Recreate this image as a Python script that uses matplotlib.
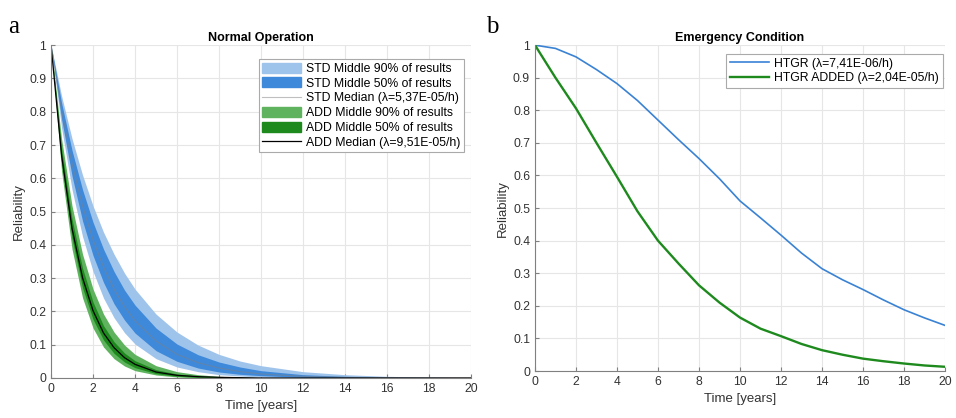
import matplotlib
matplotlib.use("Agg")
import matplotlib.pyplot as plt
from matplotlib.patches import Patch
from matplotlib.lines import Line2D

plt.rcParams['font.family'] = ['Liberation Sans', 'DejaVu Sans']

# time grid (years) for the normal operation bands
t_normal = [0, 0.5, 1, 1.5, 2, 2.5, 3, 3.5, 4, 5, 6, 7, 8, 9, 10, 12, 14, 16, 18, 20]

# STD (blue) percentiles
std_p95 = [1, 0.848, 0.719, 0.610, 0.517, 0.438, 0.372, 0.315, 0.267, 0.192, 0.138, 0.099,
           0.071, 0.051, 0.037, 0.019, 0.010, 0.005, 0.003, 0.001]
std_p75 = [1, 0.827, 0.684, 0.566, 0.468, 0.387, 0.320, 0.264, 0.219, 0.150, 0.102, 0.070,
           0.048, 0.033, 0.022, 0.010, 0.005, 0.002, 0.001, 0.0]
std_med = [1, 0.803, 0.644, 0.517, 0.415, 0.333, 0.267, 0.214, 0.172, 0.111, 0.071, 0.046,
           0.030, 0.019, 0.012, 0.005, 0.002, 0.001, 0.0, 0.0]
std_p25 = [1, 0.779, 0.607, 0.472, 0.368, 0.287, 0.223, 0.174, 0.135, 0.082, 0.050, 0.030,
           0.018, 0.011, 0.007, 0.002, 0.001, 0.0, 0.0, 0.0]
std_p05 = [1, 0.752, 0.566, 0.425, 0.320, 0.240, 0.181, 0.136, 0.102, 0.058, 0.033, 0.019,
           0.010, 0.006, 0.003, 0.001, 0.0, 0.0, 0.0, 0.0]

# ADD (green) percentiles
add_p95 = [1, 0.719, 0.517, 0.372, 0.267, 0.192, 0.138, 0.099, 0.071, 0.037, 0.019, 0.010,
           0.005, 0.003, 0.001, 0.0, 0.0, 0.0, 0.0, 0.0]
add_p75 = [1, 0.691, 0.477, 0.330, 0.228, 0.157, 0.109, 0.075, 0.052, 0.025, 0.012, 0.006,
           0.003, 0.001, 0.001, 0.0, 0.0, 0.0, 0.0, 0.0]
add_med = [1, 0.670, 0.449, 0.301, 0.202, 0.135, 0.091, 0.061, 0.041, 0.018, 0.008, 0.004,
           0.002, 0.001, 0.0, 0.0, 0.0, 0.0, 0.0, 0.0]
add_p25 = [1, 0.647, 0.419, 0.271, 0.176, 0.114, 0.074, 0.048, 0.031, 0.013, 0.005, 0.002,
           0.001, 0.0, 0.0, 0.0, 0.0, 0.0, 0.0, 0.0]
add_p05 = [1, 0.622, 0.387, 0.241, 0.150, 0.093, 0.058, 0.036, 0.022, 0.009, 0.003, 0.001,
           0.0, 0.0, 0.0, 0.0, 0.0, 0.0, 0.0, 0.0]

# emergency condition curves
t_emerg = [0, 1, 2, 3, 4, 5, 6, 7, 8, 9, 10, 11, 12, 13, 14, 15, 16, 17, 18, 19, 20]
htgr = [1, 0.99, 0.964, 0.925, 0.882, 0.83, 0.77, 0.71, 0.652, 0.59, 0.522, 0.47, 0.417,
        0.362, 0.314, 0.28, 0.25, 0.218, 0.188, 0.163, 0.14]
htgr_added = [1, 0.90, 0.806, 0.70, 0.596, 0.49, 0.40, 0.33, 0.263, 0.21, 0.164, 0.13,
              0.107, 0.083, 0.064, 0.05, 0.038, 0.03, 0.023, 0.017, 0.013]

std_lam = "5,37E-05/h"
add_lam = "9,51E-05/h"
htgr_lam = "7,41E-06/h"
added_lam = "2,04E-05/h"

xticks = list(range(0, 21, 2))
yticks = [i / 10 for i in range(11)]
ytick_labels = ["0", "0.1", "0.2", "0.3", "0.4", "0.5", "0.6", "0.7", "0.8", "0.9", "1"]

light_blue = "#9fc4ec"
dark_blue = "#3f89da"
light_green = "#5fb35f"
dark_green = "#1e8a1e"

fig = plt.figure(figsize=(9.56, 4.18), dpi=100)
ax1 = fig.add_axes([0.0534, 0.0957, 0.4393, 0.7963])
ax2 = fig.add_axes([0.5596, 0.1124, 0.4289, 0.7796])


def style_axes(ax):
    ax.set_xlim(0, 20)
    ax.set_ylim(0, 1)
    ax.set_xticks(xticks)
    ax.set_yticks(yticks)
    ax.set_yticklabels(ytick_labels)
    ax.grid(True, color="#e6e6e6", linewidth=0.8)
    ax.set_axisbelow(True)
    for side in ["top", "right"]:
        ax.spines[side].set_visible(False)
    for side in ["left", "bottom"]:
        ax.spines[side].set_color("#808080")
    ax.tick_params(direction="in", length=3, colors="#808080", labelcolor="#333333",
                   labelsize=8.7)
    ax.set_xlabel("Time [years]", fontsize=9.5, color="#333333", labelpad=4)
    ax.set_ylabel("Reliability", fontsize=9.5, color="#333333", labelpad=3)


# Normal operation
ax1.fill_between(t_normal, std_p05, std_p95, color=light_blue, linewidth=0)
ax1.fill_between(t_normal, std_p25, std_p75, color=dark_blue, linewidth=0)
ax1.plot(t_normal, std_med, color="gray", alpha=0.5, linewidth=0.8)
ax1.fill_between(t_normal, add_p05, add_p95, color=light_green, linewidth=0)
ax1.fill_between(t_normal, add_p25, add_p75, color=dark_green, linewidth=0)
ax1.plot(t_normal, add_med, color="black", linewidth=0.9)
style_axes(ax1)
ax1.set_title("Normal Operation", fontsize=9, fontweight="bold", pad=3)

handles1 = [
    Patch(color=light_blue, label="STD Middle 90% of results"),
    Patch(color=dark_blue, label="STD Middle 50% of results"),
    Line2D([], [], color="gray", alpha=0.5, linewidth=0.8, label=f"STD Median (λ={std_lam})"),
    Patch(color=light_green, label="ADD Middle 90% of results"),
    Patch(color=dark_green, label="ADD Middle 50% of results"),
    Line2D([], [], color="black", linewidth=0.9, label=f"ADD Median (λ={add_lam})"),
]
leg1 = ax1.legend(handles=handles1, loc="upper right", bbox_to_anchor=(0.99, 0.966),
                  fontsize=8.8, fancybox=False, edgecolor="#aaaaaa", framealpha=1,
                  handlelength=3.2, handleheight=0.9, labelspacing=0.2,
                  borderpad=0.3, handletextpad=0.4, borderaxespad=0.2)
leg1.get_frame().set_linewidth(0.8)

# Emergency condition
ax2.plot(t_emerg, htgr, color="#3a82d4", linewidth=1.2, label=f"HTGR (λ={htgr_lam})")
ax2.plot(t_emerg, htgr_added, color=dark_green, linewidth=1.7,
         label=f"HTGR ADDED (λ={added_lam})")
style_axes(ax2)
ax2.set_title("Emergency Condition", fontsize=9, fontweight="bold", pad=3)
leg2 = ax2.legend(loc="upper right", bbox_to_anchor=(1.0, 0.98), fontsize=8.8,
                  fancybox=False, edgecolor="#aaaaaa", framealpha=1, handlelength=3.2,
                  labelspacing=0.2, borderpad=0.3, handletextpad=0.4, borderaxespad=0.2)
leg2.get_frame().set_linewidth(0.8)

fig.text(0.008, 0.92, "a", fontsize=18, family="Liberation Serif")
fig.text(0.508, 0.92, "b", fontsize=18, family="Liberation Serif")

fig.savefig("out.png", dpi=100)
